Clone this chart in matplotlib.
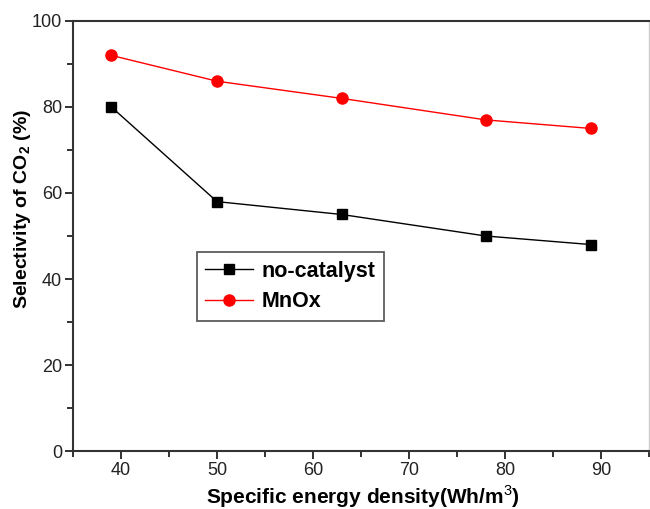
import numpy as np
import matplotlib.pyplot as plt
from matplotlib.ticker import MultipleLocator

plt.rcParams['font.family'] = ['Liberation Sans', 'DejaVu Sans']
plt.rcParams['mathtext.fontset'] = 'custom'
plt.rcParams['mathtext.rm'] = 'Liberation Sans'
plt.rcParams['mathtext.bf'] = 'Liberation Sans:bold'

# energy density (Wh/m3) and CO2 selectivity (%)
sed = [39, 50, 63, 78, 89]
no_catalyst = [80, 58, 55, 50, 48]
mnox = [92, 86, 82, 77, 75]

fig = plt.figure(figsize=(6.5, 5.09), dpi=100)
ax = fig.add_axes([73 / 650, 58 / 509, 576 / 650, 430 / 509])

ax.plot(sed, no_catalyst, color='black', lw=1.0, marker='s', ms=6.5,
        label='no-catalyst')
ax.plot(sed, mnox, color='red', lw=1.0, marker='o', ms=8,
        label='MnOx')

ax.set_xlim(35, 95)
ax.set_ylim(0, 100)
ax.xaxis.set_major_locator(MultipleLocator(10))
ax.xaxis.set_minor_locator(MultipleLocator(5))
ax.yaxis.set_major_locator(MultipleLocator(20))
ax.yaxis.set_minor_locator(MultipleLocator(10))
ax.tick_params(which='both', direction='out', labelsize=13, width=1.3,
               colors='#222222', pad=2)
ax.tick_params(which='major', length=6)
ax.tick_params(which='minor', length=4)
ax.tick_params(top=False, right=False)

for side in ['left', 'bottom', 'top']:
    ax.spines[side].set_linewidth(1.5)
    ax.spines[side].set_color('#333333')
ax.spines['right'].set_linewidth(1.0)
ax.spines['right'].set_color('#cccccc')

ax.set_xlabel('Specific energy density(Wh/m$^{3}$)', fontsize=15,
              fontweight='bold')
ax.set_ylabel('Selectivity of CO$_\\mathbf{2}$ (%)', fontsize=14,
              fontweight='bold')
ax.xaxis.set_label_coords(0.503, -0.075)
ax.yaxis.set_label_coords(-0.07, 0.563)

leg = ax.legend(loc='upper left', bbox_to_anchor=(0.215, 0.463),
                borderaxespad=0, prop={'weight': 'bold', 'size': 15.5},
                frameon=True, fancybox=False, edgecolor='#333333',
                handlelength=2.2, borderpad=0.4, labelspacing=0.45,
                handletextpad=0.4)
leg.get_frame().set_linewidth(1.3)

fig.savefig('out.png', dpi=100)
